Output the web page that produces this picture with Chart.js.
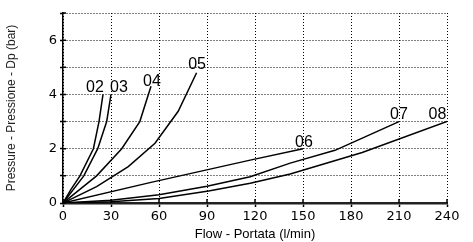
<!DOCTYPE html>
<html>
<head>
<meta charset="utf-8">
<script src="https://cdn.jsdelivr.net/npm/chart.js@4.4.1/dist/chart.umd.min.js"></script>
<style>
  html, body { margin: 0; padding: 0; background: #fff; }
  #wrap { width: 473px; height: 242px; }
</style>
</head>
<body>
<div id="wrap"><canvas id="chart-1"></canvas></div>
<script>
// curves: flow (l/min) vs pressure drop (bar)
var flow02 = [0, 5, 10.6, 19, 22.5, 25];
var dp02   = [0, 0.5, 1, 2, 3, 4];
var flow03 = [0, 13, 21.7, 27.3, 30];
var dp03   = [0, 1, 2, 3, 4];
var flow04 = [0, 21, 36.7, 48, 55];
var dp04   = [0, 1, 2, 3, 4.3];
var flow05 = [0, 21, 40.8, 57.5, 72, 83.5];
var dp05   = [0, 0.6, 1.34, 2.2, 3.38, 4.8];
var flow06 = [0, 55, 117, 150];
var dp06   = [0, 0.76, 1.58, 2.0];
var flow07 = [0, 30, 60, 90, 117, 142, 170, 210];
var dp07   = [0, 0.1, 0.3, 0.62, 0.97, 1.47, 1.94, 3.0];
var flow08 = [0, 30, 60, 91, 117, 142, 187, 240];
var dp08   = [0, 0.05, 0.17, 0.44, 0.73, 1.07, 1.86, 3.0];

// curve names and where they are written (data units)
var curveNames = ["02", "03", "04", "05", "06", "07", "08"];
var nameFlow   = [20, 35, 55.6, 83.8, 150.6, 210, 234];
var nameDp     = [4.26, 4.26, 4.48, 5.1, 2.22, 3.26, 3.26];

var xTicks = [0, 30, 60, 90, 120, 150, 180, 210, 240];
var yLabels = [0, 2, 4, 6];

function toPoints(xs, ys) {
    return xs.map(function (v, i) { return { x: v, y: ys[i] }; });
}

var curves = [
    toPoints(flow02, dp02), toPoints(flow03, dp03), toPoints(flow04, dp04),
    toPoints(flow05, dp05), toPoints(flow06, dp06), toPoints(flow07, dp07),
    toPoints(flow08, dp08)
];

var curveLabels = {
    id: 'curveLabels',
    afterDatasetsDraw: function (chart) {
        var ctx = chart.ctx;
        var sx = chart.scales.x, sy = chart.scales.y;
        ctx.save();
        ctx.fillStyle = '#000';
        ctx.font = '16px "Liberation Sans", Arial, sans-serif';
        ctx.textAlign = 'center';
        ctx.textBaseline = 'middle';
        curveNames.forEach(function (n, i) {
            ctx.fillText(n, sx.getPixelForValue(nameFlow[i]), sy.getPixelForValue(nameDp[i]));
        });
        ctx.restore();
    }
};

// tick marks that cross the axis lines
var crossTicks = {
    id: 'crossTicks',
    afterDraw: function (chart) {
        var ctx = chart.ctx;
        var sx = chart.scales.x, sy = chart.scales.y;
        var x0 = sx.getPixelForValue(0), y0 = sy.getPixelForValue(0);
        ctx.save();
        ctx.strokeStyle = '#000';
        ctx.lineWidth = 1.5;
        ctx.beginPath();
        sy.ticks.forEach(function (t) {
            var p = sy.getPixelForValue(t.value);
            ctx.moveTo(x0, p);
            ctx.lineTo(x0 + 3, p);
        });
        sx.ticks.forEach(function (t) {
            var p = sx.getPixelForValue(t.value);
            ctx.moveTo(p, y0);
            ctx.lineTo(p, y0 - 4);
        });
        ctx.stroke();
        ctx.restore();
    }
};

var ctx_1 = document.getElementById('chart-1');
var myChart = new Chart(ctx_1, {
    type: 'line',
    data: {
        datasets: curves.map(function (pts) {
            return {
                data: pts,
                borderColor: '#000',
                borderWidth: 1.5,
                pointRadius: 0,
                tension: 0,
                fill: false
            };
        })
    },
    options: {
        responsive: true,
        maintainAspectRatio: false,
        animation: false,
        layout: {
            padding: { left: 4, top: 13, right: 26, bottom: 0 }
        },
        plugins: {
            legend: { display: false },
            tooltip: { enabled: false }
        },
        scales: {
            x: {
                type: 'linear',
                min: 0,
                max: 240,
                afterBuildTicks: function (axis) {
                    axis.ticks = xTicks.map(function (v) { return { value: v }; });
                },
                afterFit: function (axis) { axis.height = 39; },
                ticks: {
                    color: '#000',
                    padding: 2,
                    maxRotation: 0,
                    font: { family: '"DejaVu Sans", sans-serif', size: 13 }
                },
                grid: {
                    color: '#000',
                    lineWidth: 1,
                    tickLength: 4,
                    tickColor: '#000',
                    tickWidth: 1.5,
                    tickBorderDash: []
                },
                border: { display: true, color: '#222', width: 2.5, dash: [1, 2] },
                title: {
                    display: true,
                    text: 'Flow - Portata (l/min)',
                    color: '#000',
                    padding: 0,
                    font: { family: '"Liberation Sans", Arial, sans-serif', size: 13 }
                }
            },
            y: {
                type: 'linear',
                min: 0,
                max: 7,
                ticks: {
                    stepSize: 0.5,
                    color: '#000',
                    padding: 3,
                    font: { family: '"DejaVu Sans", sans-serif', size: 13 },
                    callback: function (v) {
                        return yLabels.indexOf(v) >= 0 ? String(v) : '';
                    }
                },
                afterFit: function (axis) { axis.width = 59; },
                grid: {
                    color: '#000',
                    lineWidth: 1,
                    tickLength: 3,
                    tickColor: '#000',
                    tickWidth: 1.5,
                    tickBorderDash: []
                },
                border: { display: true, color: '#000', width: 1.5, dash: [1, 2] },
                title: {
                    display: true,
                    text: 'Pressure - Pressione - Dp (bar)',
                    color: '#222',
                    padding: 0,
                    font: { family: '"Liberation Sans", Arial, sans-serif', size: 12 }
                }
            }
        }
    },
    plugins: [curveLabels, crossTicks]
});
</script>
</body>
</html>
